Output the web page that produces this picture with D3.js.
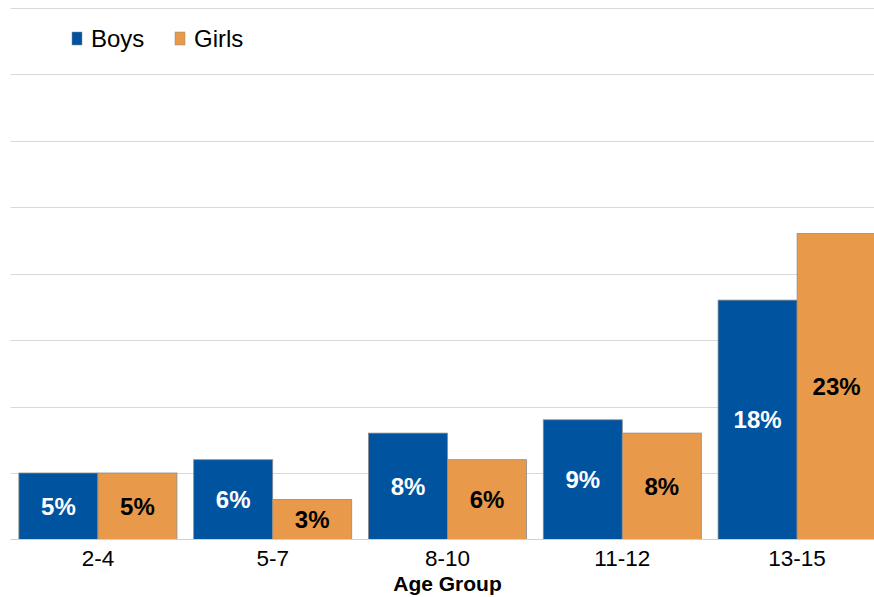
<!DOCTYPE html>
<html>
<head>
<meta charset="utf-8">
<script src="https://cdn.jsdelivr.net/npm/d3@7"></script>
<style>
  html, body { margin: 0; padding: 0; background: #fff; }
  svg { display: block; font-family: "Liberation Sans", Arial, sans-serif; }
</style>
</head>
<body>
<svg id="chart" width="874" height="597"></svg>
<script>
// Age groups on the x axis
const categories = ["2-4", "5-7", "8-10", "11-12", "13-15"];
// Share (%) per age group
const boys  = [5, 6, 8, 9, 18];
const girls = [5, 3, 6, 8, 23];
const seriesNames = ["Boys", "Girls"];
const yTicks = [0, 5, 10, 15, 20, 25, 30, 35, 40];

const colors = { Boys: "#00539F", Girls: "#E8994A" };
const labelColors = { Boys: "#ffffff", Girls: "#000000" };

const svg = d3.select("#chart");
const W = 874, H = 597;
const plot = { left: 10.5, right: 884.5, top: 7.5, bottom: 539.5 };

const x = d3.scaleBand().domain(categories).range([plot.left, plot.right]).paddingInner(0.0958).paddingOuter(0.0479);
const xs = d3.scaleBand().domain(seriesNames).range([0, x.bandwidth()]);
const y = d3.scaleLinear().domain([0, 40]).range([plot.bottom, plot.top]);

svg.append("defs").append("clipPath").attr("id", "clip")
  .append("rect").attr("x", 0).attr("y", 0).attr("width", W).attr("height", H);

const g = svg.append("g").attr("clip-path", "url(#clip)");

// horizontal gridlines
g.append("g")
  .selectAll("line")
  .data(yTicks.filter(t => t > 0))
  .join("line")
  .attr("x1", plot.left).attr("x2", plot.right)
  .attr("y1", d => Math.round(y(d)) + 0.5).attr("y2", d => Math.round(y(d)) + 0.5)
  .attr("stroke", "#d9d9d9").attr("stroke-width", 1);

const rows = categories.map((c, i) => ({ cat: c, Boys: boys[i], Girls: girls[i] }));

const groups = g.append("g").selectAll("g")
  .data(rows)
  .join("g")
  .attr("transform", d => `translate(${x(d.cat)},0)`);

const bars = groups.selectAll("g")
  .data(d => seriesNames.map(s => ({ s, v: d[s] })))
  .join("g");

bars.append("rect")
  .attr("x", d => xs(d.s))
  .attr("y", d => y(d.v))
  .attr("width", xs.bandwidth())
  .attr("height", d => y(0) - y(d.v))
  .attr("fill", d => colors[d.s])
  .attr("stroke", "#8c8c8c")
  .attr("stroke-width", 0.8);

bars.append("text")
  .attr("x", d => xs(d.s) + xs.bandwidth() / 2)
  .attr("y", d => (y(d.v) + y(0)) / 2)
  .attr("dy", "0.36em")
  .attr("text-anchor", "middle")
  .attr("font-size", 24)
  .attr("font-weight", "bold")
  .attr("fill", d => labelColors[d.s])
  .text(d => d.v + "%");

// x axis
const xAxis = g.append("g")
  .attr("transform", `translate(0,${plot.bottom})`)
  .call(d3.axisBottom(x).tickSize(0).tickPadding(11));
xAxis.select(".domain").attr("stroke", "#d0d0d0").attr("stroke-width", 1.2).attr("d", `M${plot.left},0H${plot.right}`);
xAxis.selectAll("text")
  .attr("font-family", "Liberation Sans, Arial, sans-serif")
  .attr("font-size", 22.5).attr("fill", "#000");

// axis title
svg.append("text")
  .attr("x", (plot.left + plot.right) / 2)
  .attr("y", 591)
  .attr("text-anchor", "middle")
  .attr("font-size", 21)
  .attr("font-weight", "bold")
  .attr("fill", "#000")
  .text("Age Group");

// legend
const legend = svg.append("g").attr("transform", "translate(72,32)");
const legendItems = legend.selectAll("g")
  .data(seriesNames)
  .join("g")
  .attr("transform", (d, i) => `translate(${i * 103},0)`);
legendItems.append("rect")
  .attr("width", 10).attr("height", 13)
  .attr("fill", d => colors[d])
  .attr("stroke", "#8c8c8c").attr("stroke-width", 0.5);
legendItems.append("text")
  .attr("x", 19).attr("y", 6.5).attr("dy", "0.36em")
  .attr("font-size", 24).attr("fill", "#000")
  .text(d => d);
</script>
</body>
</html>
